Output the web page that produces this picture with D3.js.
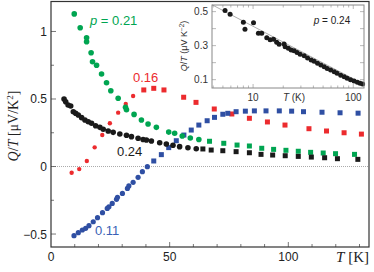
<!DOCTYPE html>
<html><head><meta charset="utf-8">
<script src="https://cdn.jsdelivr.net/npm/d3@7"></script>
<style>body{margin:0;background:#fff}svg{display:block}</style>
</head><body><svg id="c" width="374" height="272"></svg>
<script>
// ---- data (T in K, Q/T in µV/K²) ----
const greenT = [9.8,12.3,15,15,16.9,17.5,19.2,21.3,23.4,25.2,28.3,31.4,31.8,35,38.1,40.9,44.4,49.6,52.1,55.3,58.7,62.3,66.8,72.8,78.4,83.6,88.8,93.8,99,104.2,109.4,114.7,119.9,127.9];
const greenQ = [1.13,1.028,0.954,0.924,0.843,0.776,0.75,0.685,0.62,0.561,0.505,0.438,0.42,0.386,0.344,0.315,0.29,0.255,0.246,0.226,0.211,0.2,0.187,0.172,0.159,0.152,0.135,0.127,0.12,0.113,0.105,0.1,0.095,0.09];
const blackT = [5.5,6.2,7.2,8.3,9.4,10.4,11.5,12.9,14.3,15.7,17.1,18.8,20.6,22,24.1,26.2,29,31.8,33.9,36.7,38.8,40.2,42.3,45.8,48.6,51.4,54.2,57.7,61.2,64,67.5,72.4,78,83.6,88.5,93.4,98.7,104.2,109.7,115.3,120.7,129.3];
const blackQ = [0.5,0.48,0.455,0.448,0.406,0.395,0.381,0.362,0.344,0.332,0.32,0.302,0.29,0.276,0.263,0.253,0.241,0.231,0.221,0.209,0.2,0.196,0.189,0.176,0.167,0.157,0.147,0.139,0.132,0.13,0.122,0.117,0.11,0.102,0.09,0.085,0.08,0.075,0.07,0.065,0.058,0.053];
const redT = [8.7,11.9,15.1,18.4,21.6,24.8,28.3,31.5,34.6,39.1,43.3,47.6,55.9,61.1,68.8,76.2,83.6,91.2,98.6,108.7,116.1,123.5,130.8];
const redQ = [-0.046,-0.019,0.041,0.142,0.233,0.32,0.399,0.463,0.522,0.567,0.579,0.567,0.513,0.475,0.426,0.389,0.357,0.33,0.307,0.28,0.263,0.25,0.24];
const blueT = [9.7,11.5,13.2,14.6,16,17.8,19.6,21.7,23.7,24.4,25.8,27.6,28,30.1,32.2,32.8,34.6,36.7,38.5,40.6,43.3,46.5,49.6,52.8,56,59.1,62.3,65.8,68.9,72.4,74.5,78,81.9,85.7,90.6,96.2,101.4,106.4,114.2,121.8,129.4];
const blueQ = [-0.512,-0.49,-0.47,-0.458,-0.438,-0.409,-0.379,-0.342,-0.31,-0.298,-0.273,-0.243,-0.228,-0.199,-0.162,-0.144,-0.117,-0.08,-0.038,-0.001,0.041,0.088,0.14,0.191,0.233,0.27,0.307,0.339,0.364,0.387,0.394,0.406,0.41,0.412,0.412,0.412,0.41,0.406,0.402,0.398,0.395];
const insetT = [5.25,5.9,8.0,8.3,10.1,11.3,12.2,13.7,14.8,16,17.2,18.2,20.4,20.9,22.5,24,25.7,27.5,29.5,32.4,35,38,40.7,44,47.5,51.3,55,59.5,64.6,69,75,81.3,87,94,102,110,117,124];
const insetQ = [0.506,0.485,0.438,0.396,0.435,0.373,0.373,0.347,0.334,0.337,0.32,0.308,0.31,0.294,0.285,0.275,0.27,0.26,0.25,0.24,0.228,0.216,0.208,0.196,0.186,0.176,0.166,0.157,0.146,0.137,0.126,0.117,0.108,0.1,0.092,0.085,0.079,0.074];
const fitT = [3.9,128];
const fitQ = [0.54,0.072];
const xTicks = [0,50,100];
const yTicks = [-0.5,0,0.5,1];
const insetXTicks = [10,100];
const insetYTicks = [0.1,0.3,0.5];

const svg = d3.select('#c');
const x = d3.scaleLinear([0,134],[51,369]);
const y = d3.scaleLinear([-0.596,1.222],[247,1.5]);

// zero line
svg.append('line').attr('x1',x(0)).attr('x2',x(134)).attr('y1',y(0)).attr('y2',y(0))
  .attr('stroke','#aaa').attr('stroke-width',1).attr('stroke-dasharray','1,1');

// ticks (inward)
const g = svg.append('g');
d3.range(10,134,10).forEach(t=>{
  const L = t%50===0?5:3;
  g.append('line').attr('x1',x(t)).attr('x2',x(t)).attr('y1',247).attr('y2',247-L).attr('stroke','#555').attr('stroke-width',0.8);
});
d3.range(-0.5,1.21,0.25).forEach(v=>{
  const L = Math.abs(v*2-Math.round(v*2))<1e-6?5:3;
  g.append('line').attr('x1',51).attr('x2',51+L).attr('y1',y(v)).attr('y2',y(v)).attr('stroke','#555').attr('stroke-width',0.8);
});
xTicks.forEach(t=>svg.append('text').attr('x',x(t)).attr('y',261).attr('text-anchor','middle')
  .attr('font-family','Liberation Sans, Arial, sans-serif').attr('font-size',12).attr('fill','#222').text(t));
yTicks.forEach(v=>svg.append('text').attr('x',47).attr('y',y(v)+4.5).attr('text-anchor','end')
  .attr('font-family','Liberation Sans, Arial, sans-serif').attr('font-size',12).attr('fill','#222').text(v<0?'\u2212'+Math.abs(v):v));

// series
function drawSeries(T,Q,color,switchT,r){
  const data = T.map((t,i)=>({t,q:Q[i]}));
  const s = svg.append('g').attr('fill',color);
  s.selectAll('circle').data(data.filter(d=>d.t<switchT)).join('circle')
    .attr('cx',d=>x(d.t)).attr('cy',d=>y(d.q)).attr('r',r);
  s.selectAll('rect').data(data.filter(d=>d.t>=switchT)).join('rect')
    .attr('x',d=>x(d.t)-2.5).attr('y',d=>y(d.q)-2.5).attr('width',5).attr('height',5);
}
drawSeries(redT,redQ,'#ec2b2e',37,2.2);
drawSeries(blueT,blueQ,'#2f4fa3',41,2.6);
drawSeries(greenT,greenQ,'#00a551',64,2.8);
drawSeries(blackT,blackQ,'#1a1a1a',62,2.8);

// series labels
const sans='Liberation Sans, Arial, sans-serif';
const gl = svg.append('text').attr('x',90).attr('y',25).attr('font-family',sans).attr('font-size',13).attr('fill','#00a551');
gl.append('tspan').attr('font-style','italic').text('p');
gl.append('tspan').text(' = 0.21');
svg.append('text').attr('x',133).attr('y',82).attr('font-family',sans).attr('font-size',13).attr('fill','#ec2b2e').text('0.16');
svg.append('text').attr('x',117).attr('y',156).attr('font-family',sans).attr('font-size',13).attr('fill','#1a1a1a').text('0.24');
svg.append('text').attr('x',95).attr('y',235).attr('font-family',sans).attr('font-size',13).attr('fill','#3a5fb5').text('0.11');

// axis titles
const serif='DejaVu Serif, Liberation Serif, serif';
const xt = svg.append('text').attr('x',369).attr('y',262).attr('text-anchor','end').attr('font-family','Liberation Serif, serif').attr('font-size',15).attr('fill','#222');
xt.append('tspan').attr('font-style','italic').text('T');
xt.append('tspan').text(' [K]');
const yt = svg.append('text').attr('transform','translate(18,126) rotate(-90)').attr('text-anchor','middle')
  .attr('font-family','Liberation Serif, serif').attr('font-size',14).attr('fill','#222');
yt.append('tspan').attr('font-style','italic').text('Q');
yt.append('tspan').text('/');
yt.append('tspan').attr('font-style','italic').text('T');
yt.append('tspan').text(' [\u03bcV/K');
yt.append('tspan').attr('font-size',9).attr('dy',-5).text('2');
yt.append('tspan').attr('dy',5).text(']');

// main frame
svg.append('rect').attr('x',51).attr('y',1.5).attr('width',318).attr('height',245.5)
  .attr('fill','none').attr('stroke','#333').attr('stroke-width',1.2);

// ---- inset ----
const ix = d3.scaleLog([3.89,128],[212,364]);
const iy = d3.scaleLinear([0.051,0.539],[88,5]);
svg.append('rect').attr('x',212).attr('y',5).attr('width',152).attr('height',83).attr('fill','#fff');
const ig = svg.append('g');
[4,5,6,7,8,9,10,20,30,40,50,60,70,80,90,100].forEach(t=>{
  const L = (t===10||t===100)?4:2.5;
  ig.append('line').attr('x1',ix(t)).attr('x2',ix(t)).attr('y1',88).attr('y2',88-L).attr('stroke','#999').attr('stroke-width',0.7);
  ig.append('line').attr('x1',ix(t)).attr('x2',ix(t)).attr('y1',5).attr('y2',5+L).attr('stroke','#999').attr('stroke-width',0.7);
});
[0.1,0.2,0.3,0.4,0.5].forEach(v=>{
  ig.append('line').attr('x1',212).attr('x2',216).attr('y1',iy(v)).attr('y2',iy(v)).attr('stroke','#999').attr('stroke-width',0.7);
  ig.append('line').attr('x1',364).attr('x2',360).attr('y1',iy(v)).attr('y2',iy(v)).attr('stroke','#999').attr('stroke-width',0.7);
});
ig.append('path').datum(fitT.map((t,i)=>[t,fitQ[i]]))
  .attr('d',d3.line().x(d=>ix(d[0])).y(d=>iy(d[1]))).attr('stroke','#999').attr('stroke-width',0.8).attr('fill','none');
ig.selectAll('circle').data(insetT.map((t,i)=>({t,q:insetQ[i]}))).join('circle')
  .attr('cx',d=>ix(d.t)).attr('cy',d=>iy(d.q)).attr('r',2.5).attr('fill','#1a1a1a');
svg.append('rect').attr('x',212).attr('y',5).attr('width',152).attr('height',83)
  .attr('fill','none').attr('stroke','#888').attr('stroke-width',1);
insetXTicks.forEach(t=>svg.append('text').attr('x',ix(t)).attr('y',101).attr('text-anchor','middle')
  .attr('font-family',sans).attr('font-size',10).attr('fill','#333').text(t));
insetYTicks.forEach(v=>svg.append('text').attr('x',208).attr('y',iy(v)+3.5).attr('text-anchor','end')
  .attr('font-family',sans).attr('font-size',10).attr('fill','#333').text(v));
const ixl = svg.append('text').attr('x',294).attr('y',101).attr('text-anchor','middle').attr('font-family',sans).attr('font-size',10).attr('fill','#333');
ixl.append('tspan').attr('font-style','italic').text('T');
ixl.append('tspan').text(' (K)');
const iyl = svg.append('text').attr('transform','translate(187,46) rotate(-90)').attr('text-anchor','middle')
  .attr('font-family',sans).attr('font-size',9).attr('fill','#333');
iyl.append('tspan').attr('font-style','italic').text('Q');
iyl.append('tspan').text('/');
iyl.append('tspan').attr('font-style','italic').text('T');
iyl.append('tspan').text(' (\u03bcV K');
iyl.append('tspan').attr('font-size',6.5).attr('dy',-3.5).text('\u22122');
iyl.append('tspan').attr('dy',3.5).text(')');
const ip = svg.append('text').attr('x',332).attr('y',24).attr('text-anchor','middle').attr('font-family',sans).attr('font-size',10).attr('fill','#222');
ip.append('tspan').attr('font-style','italic').text('p');
ip.append('tspan').text(' = 0.24');
</script></body></html>
